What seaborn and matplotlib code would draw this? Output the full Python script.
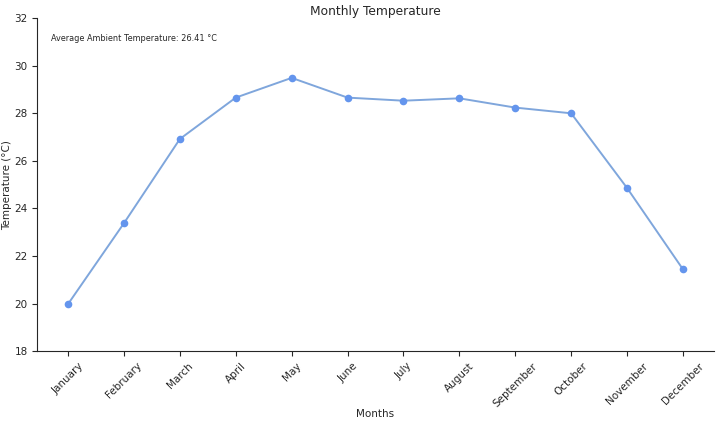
import matplotlib
matplotlib.use('Agg')
import matplotlib.pyplot as plt
import pandas as pd
import seaborn as sns

months = ['January', 'February', 'March', 'April', 'May', 'June', 'July',
          'August', 'September', 'October', 'November', 'December']
temps = [19.98, 23.38, 26.92, 28.66, 29.49, 28.66, 28.53, 28.63, 28.24, 28.0, 24.86, 21.44]
avg_temp = 26.41

sns.set_style('ticks')
plt.rcParams['font.family'] = ['DejaVu Sans']

df = pd.DataFrame({'Month': months, 'Temperature': temps})

fig, ax = plt.subplots(figsize=(7.18, 4.23), dpi=100)
sns.lineplot(data=df, x='Month', y='Temperature', ax=ax, color='#7fa6dc',
             marker='o', markersize=5.5, markeredgewidth=0, markerfacecolor='#6495ED',
             linewidth=1.4, sort=False)
ax.set_ylim(18, 32)
ax.set_title('Monthly Temperature', fontsize=8.8, pad=0)
ax.set_xlabel('Months', fontsize=7.5, labelpad=0.5)
ax.set_ylabel('Temperature (°C)', fontsize=7.5, labelpad=2)
ax.tick_params(axis='both', labelsize=7.5)
plt.setp(ax.get_xticklabels(), rotation=45)
ax.text(0.02, 0.94, f'Average Ambient Temperature: {avg_temp:.2f} °C',
        transform=ax.transAxes, fontsize=5.9, va='center')
sns.despine(ax=ax)
fig.subplots_adjust(left=0.052, right=0.994, top=0.957, bottom=0.17)
fig.savefig('out.png', dpi=100)
